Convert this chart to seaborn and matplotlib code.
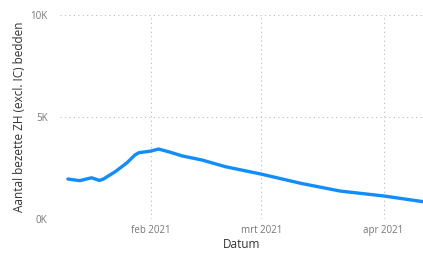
import matplotlib
matplotlib.use("Agg")
import matplotlib.pyplot as plt
import matplotlib.ticker as mticker
import seaborn as sns
import pandas as pd

# values (thousands of beds)
dates = ["2021-01-11", "2021-01-14", "2021-01-17", "2021-01-19", "2021-01-20",
         "2021-01-23", "2021-01-26", "2021-01-28", "2021-01-29", "2021-02-01",
         "2021-02-03", "2021-02-06", "2021-02-09", "2021-02-14", "2021-02-20",
         "2021-03-01", "2021-03-11", "2021-03-21", "2021-04-01", "2021-04-11"]
beds_k = [1.96, 1.88, 2.02, 1.89, 1.96,
          2.32, 2.76, 3.14, 3.25, 3.33,
          3.43, 3.27, 3.09, 2.89, 2.56,
          2.20, 1.75, 1.37, 1.13, 0.85]
month_ticks = ["2021-02-01", "2021-03-01", "2021-04-01"]
month_labels = ["feb 2021", "mrt 2021", "apr 2021"]

df = pd.DataFrame({"Datum": pd.to_datetime(dates), "bedden": [v * 1000 for v in beds_k]})

sns.set_theme(style="white")
plt.rcParams["font.family"] = ["Open Sans", "DejaVu Sans"]

fig = plt.figure(figsize=(4.23, 2.54), dpi=100)
ax = fig.add_axes([60 / 423, 1 - 219 / 254, 1 - 60 / 423, (219 - 15) / 254])

sns.lineplot(data=df, x="Datum", y="bedden", ax=ax, color="#118DFF", linewidth=2.4,
             solid_capstyle="round", solid_joinstyle="round")

ax.set_xlim(pd.Timestamp("2021-01-09"), pd.Timestamp("2021-04-11"))
ax.set_ylim(0, 10000)
ax.set_yticks([0, 5000, 10000])
ax.yaxis.set_major_formatter(mticker.FuncFormatter(lambda v, p: f"{int(v/1000)}K"))
ax.set_xticks(pd.to_datetime(month_ticks))
ax.set_xticklabels(month_labels)

ax.grid(True, linestyle=(0, (1, 3)), color="#bbbbbb", linewidth=0.8)
for s in ax.spines.values():
    s.set_visible(False)
ax.tick_params(axis="both", length=0, labelsize=7, colors="#777777")
ax.tick_params(axis="y", pad=9)
ax.tick_params(axis="x", pad=4)

ax.set_xlabel("Datum", fontsize=8.5, color="#333333", labelpad=2)
ax.set_ylabel("Aantal bezette ZH (excl. IC) bedden", fontsize=8.5, color="#333333", labelpad=3)

fig.savefig("out.png", dpi=100)
